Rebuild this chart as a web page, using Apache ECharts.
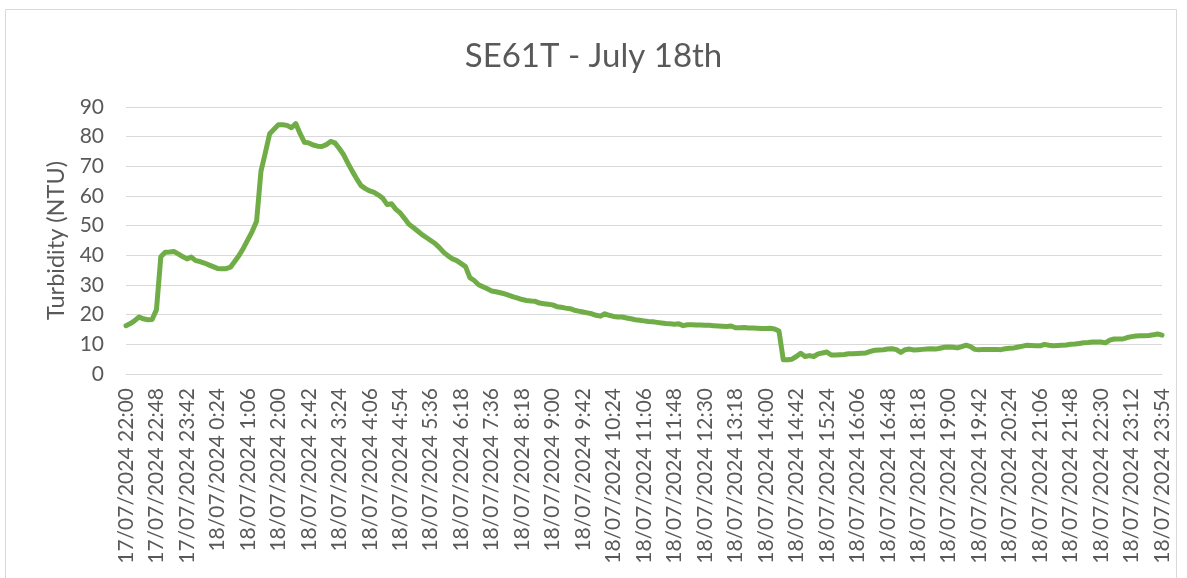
<!DOCTYPE html>
<html>
<head>
<meta charset="utf-8">
<title>SE61T - July 18th</title>
<script src="https://cdn.jsdelivr.net/npm/echarts@6/dist/echarts.min.js"></script>
<style>
  html, body { margin: 0; padding: 0; background: #ffffff; }
  #chart { width: 1187px; height: 578px; }
</style>
</head>
<body>
<div id="chart"></div>
<script>
// Sample times (logger clock), split by day
const day1Times = [
  "22:00","22:06","22:12","22:18","22:24","22:30","22:36",
  "22:48","22:54","23:00","23:06","23:12","23:18","23:30",
  "23:42","23:48","23:54"
];
const day2Times = [
  "0:00","0:06","0:12","0:18",
  "0:24","0:30","0:36","0:42","0:48","0:54","1:00",
  "1:06","1:12","1:18","1:24","1:30","1:36","1:48",
  "2:00","2:06","2:12","2:18","2:24","2:30","2:36",
  "2:42","2:48","2:54","3:00","3:06","3:12","3:18",
  "3:24","3:30","3:36","3:42","3:48","3:54","4:00",
  "4:06","4:12","4:18","4:24","4:30","4:36","4:42",
  "4:54","5:00","5:06","5:12","5:18","5:24","5:30",
  "5:36","5:42","5:48","5:54","6:00","6:06","6:12",
  "6:18","6:24","6:30","6:36","6:48","7:00","7:18",
  "7:36","7:42","7:48","7:54","8:00","8:06","8:12",
  "8:18","8:24","8:30","8:36","8:42","8:48","8:54",
  "9:00","9:06","9:12","9:18","9:24","9:30","9:36",
  "9:42","9:48","9:54","10:00","10:06","10:12","10:18",
  "10:24","10:30","10:36","10:42","10:48","10:54","11:00",
  "11:06","11:12","11:18","11:24","11:30","11:36","11:42",
  "11:48","11:54","12:00","12:06","12:12","12:18","12:24",
  "12:30","12:36","12:42","12:48","12:54","13:00","13:06",
  "13:18","13:24","13:30","13:36","13:42","13:48","13:54",
  "14:00","14:06","14:12","14:18","14:24","14:30","14:36",
  "14:42","14:48","14:54","15:00","15:06","15:12","15:18",
  "15:24","15:30","15:36","15:42","15:48","15:54","16:00",
  "16:06","16:12","16:18","16:24","16:30","16:36","16:42",
  "16:48","17:00","17:12","17:30","17:42","17:54","18:06",
  "18:18","18:24","18:30","18:36","18:42","18:48","18:54",
  "19:00","19:06","19:12","19:18","19:24","19:30","19:36",
  "19:42","19:48","19:54","20:00","20:06","20:12","20:18",
  "20:24","20:30","20:36","20:42","20:48","20:54","21:00",
  "21:06","21:12","21:18","21:24","21:30","21:36","21:42",
  "21:48","21:54","22:00","22:06","22:12","22:18","22:24",
  "22:30","22:36","22:42","22:48","22:54","23:00","23:06",
  "23:12","23:18","23:24","23:30","23:36","23:42","23:48",
  "23:54"
];

// Turbidity readings (NTU), one per sample time
const turbidity = [
  16.3, 17.0, 18.0, 19.2, 18.6, 18.3, 18.4, 21.7, 39.5, 41.0,
  41.1, 41.3, 40.5, 39.6, 38.8, 39.4, 38.2, 37.9, 37.4, 36.8,
  36.2, 35.6, 35.5, 35.5, 36.0, 38.0, 40.0, 42.5, 45.3, 48.1,
  51.5, 68.3, 74.5, 81.0, 82.5, 84.0, 84.0, 83.8, 83.0, 84.4,
  81.0, 78.1, 77.9, 77.2, 76.8, 76.7, 77.3, 78.4, 77.9, 76.0,
  73.9, 71.0, 68.3, 65.8, 63.5, 62.5, 61.7, 61.2, 60.3, 59.2,
  57.1, 57.4, 55.5, 54.3, 52.4, 50.5, 49.4, 48.2, 47.0, 46.0,
  45.0, 44.0, 42.6, 41.0, 39.8, 38.8, 38.2, 37.2, 36.2, 32.5,
  31.5, 30.1, 29.4, 28.7, 28.0, 27.7, 27.4, 27.0, 26.5, 26.0,
  25.6, 25.1, 24.8, 24.6, 24.5, 23.9, 23.7, 23.5, 23.3, 22.7,
  22.5, 22.2, 22.0, 21.5, 21.2, 20.9, 20.6, 20.3, 19.8, 19.5,
  20.3, 19.8, 19.4, 19.2, 19.2, 18.9, 18.6, 18.3, 18.1, 17.9,
  17.7, 17.6, 17.4, 17.2, 17.0, 16.9, 16.8, 16.9, 16.3, 16.6,
  16.6, 16.5, 16.5, 16.4, 16.4, 16.3, 16.2, 16.1, 16.0, 16.2,
  15.6, 15.6, 15.7, 15.5, 15.5, 15.4, 15.3, 15.3, 15.4, 15.2,
  14.5, 4.8, 4.8, 5.0, 5.9, 7.0, 5.9, 6.2, 5.9, 6.8,
  7.1, 7.4, 6.4, 6.4, 6.5, 6.6, 6.8, 6.8, 6.9, 7.0,
  7.1, 7.6, 8.0, 8.1, 8.2, 8.4, 8.5, 8.2, 7.3, 8.2,
  8.4, 8.1, 8.2, 8.3, 8.4, 8.5, 8.4, 8.7, 9.0, 9.1,
  9.0, 8.8, 9.2, 9.7, 9.2, 8.3, 8.2, 8.3, 8.3, 8.3,
  8.3, 8.2, 8.5, 8.7, 8.8, 9.1, 9.4, 9.7, 9.6, 9.5,
  9.5, 10.0, 9.7, 9.5, 9.6, 9.7, 9.8, 10.0, 10.1, 10.3,
  10.5, 10.6, 10.8, 10.8, 10.8, 10.5, 11.4, 11.8, 11.8, 11.8,
  12.3, 12.6, 12.8, 12.9, 12.9, 13.0, 13.2, 13.5, 13.1
];

const categories = day1Times.map(t => "17/07/2024 " + t)
  .concat(day2Times.map(t => "18/07/2024 " + t));

const textColor = "#595959";
const gridColor = "#d9d9d9";
const fontFamily = "Lato, 'Open Sans', sans-serif";

const chart = echarts.init(document.getElementById("chart"), null, { renderer: "canvas" });

chart.setOption({
  animation: false,
  backgroundColor: "#ffffff",
  graphic: [{
    type: "rect",
    shape: { x: 5.5, y: 9.5, width: 1171, height: 620 },
    style: { fill: "none", stroke: "#d9d9d9", lineWidth: 1 },
    silent: true,
    z: -1
  }],
  title: {
    text: "SE61T - July 18th",
    left: "center",
    top: 35,
    textStyle: {
      fontFamily: fontFamily,
      fontSize: 33,
      fontWeight: "normal",
      color: textColor
    }
  },
  grid: { left: 126, right: 25, top: 107, bottom: 204 },
  xAxis: {
    type: "category",
    data: categories,
    boundaryGap: false,
    axisLine: { show: true, lineStyle: { color: gridColor, width: 1 } },
    axisTick: { show: false },
    splitLine: { show: false },
    axisLabel: {
      interval: 6,
      rotate: 90,
      margin: 14,
      color: textColor,
      fontFamily: fontFamily,
      fontSize: 21
    }
  },
  yAxis: {
    type: "value",
    min: 0,
    max: 90,
    interval: 10,
    name: "Turbidity (NTU)",
    nameLocation: "middle",
    nameGap: 54,
    nameTextStyle: {
      fontFamily: fontFamily,
      fontSize: 23.5,
      color: textColor
    },
    axisLine: { show: false },
    axisTick: { show: false },
    splitLine: { show: true, lineStyle: { color: gridColor, width: 1.2 } },
    axisLabel: {
      margin: 22,
      color: textColor,
      fontFamily: fontFamily,
      fontSize: 21
    }
  },
  series: [{
    name: "SE61T",
    type: "line",
    data: turbidity,
    showSymbol: false,
    smooth: false,
    lineStyle: { color: "#70ad47", width: 5, cap: "round", join: "round" },
    itemStyle: { color: "#70ad47" }
  }]
});
</script>
</body>
</html>
